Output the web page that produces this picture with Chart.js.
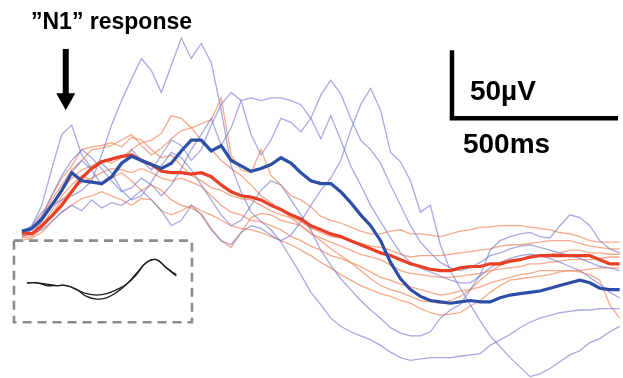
<!DOCTYPE html>
<html><head><meta charset="utf-8">
<script src="https://cdn.jsdelivr.net/npm/chart.js@4.4.1/dist/chart.umd.min.js"></script>
<style>html,body{margin:0;padding:0;background:#fff;}canvas{display:block;}</style>
</head><body>
<canvas id="c" width="623" height="378"></canvas>
<script>
// time axis (ms) shared by all traces
const timeMs = [0,30,60,90,120,150,180,210,240,270,300,330,360,390,420,450,480,510,540,570,600,630,660,690,720,750,780,810,840,870,900,930,960,990,1020,1050,1080,1110,1140,1170,1200,1230,1260,1290,1320,1350,1380,1410,1440,1470,1500,1530,1560,1590,1620,1650,1680,1710,1740,1770,1800];

// mean responses (µV)
const meanBlue = [3,5,12,22,33,46,40,39,38,43,53,58,55,52,49,53,62,70,70,62,66,55,51,47,49,52,57,53,46,40,38,38,32,24,15,7,-4,-20,-32,-40,-45,-48,-49,-50,-49,-48,-49,-49,-46,-44,-43,-42,-41,-39,-37,-35,-33,-35,-39,-40,-40];
const meanRed = [2,1,7,14,22,32,42,49,54,56,58,59,55,52,47,46,46,45,46,43,37,32,29,28,26,22,19,15,12,7,4,1,-1,-4,-7,-10,-13,-15,-18,-21,-23,-25,-26,-26,-24,-23,-23,-21,-21,-19,-18,-16,-15,-15,-15,-15,-15,-15,-18,-21,-21];

// individual blue traces (µV)
const blue1 = [2,7,17,22,26,29,33,40,59,81,99,115,130,121,105,125,145,130,141,127,92,51,32,17,10,4,-5,-17,-29,-42,-51,-61,-67,-71,-74,-77,-81,-86,-90,-92,-91,-90,-90,-90,-89,-88,-87,-81,-77,-73,-68,-64,-61,-59,-57,-56,-55,-55,-54,-54,-54];
const blue2 = [1,7,22,49,74,81,59,49,53,46,33,26,29,39,51,61,57,48,37,26,15,7,11,22,33,40,37,26,15,4,-11,-22,-32,-40,-48,-55,-61,-68,-72,-74,-74,-71,-61,-55,-51,-40,-29,-11,-4,-1,1,2,-1,-2,7,15,13,7,-4,-10,-13];
const blue3 = [1,4,10,22,33,46,55,48,37,42,51,63,55,48,59,70,66,55,63,81,96,105,99,101,99,101,101,99,96,86,71,88,70,51,37,22,10,-2,-13,-20,-24,-27,-30,-33,-35,-35,-30,-24,-20,-17,-15,-14,-15,-17,-20,-23,-26,-31,-36,-42,-46];
const blue4 = [0,4,13,29,44,55,63,57,49,40,32,35,42,37,29,37,49,63,74,86,66,79,99,74,59,70,86,83,76,86,103,114,104,86,70,63,53,37,22,7,-5,-13,-20,-24,-26,-24,-20,-15,-13,-10,-8,-7,-9,-11,-13,-15,-17,-20,-23,-24,-26];
const blue5 = [0,1,4,10,17,22,18,26,20,24,22,27,33,26,18,7,11,22,15,4,-4,-7,2,7,5,0,-4,0,10,22,33,42,55,77,96,108,92,61,54,40,17,22,-7,-26,-39,-51,-63,-74,-82,-90,-97,-104,-102,-98,-93,-88,-85,-79,-76,-71,-67];

// individual red traces (µV)
const red1 = [-1,1,11,26,37,48,55,63,64,66,70,74,66,59,64,71,77,79,82,85,101,59,48,46,63,44,37,29,26,21,14,11,9,6,3,1,1,3,4,1,1,0,-1,1,3,4,6,6,7,7,7,6,5,4,2,1,-1,-4,-5,-5,-5];
const red2 = [0,4,15,29,42,51,63,65,66,68,65,72,70,63,57,59,51,44,40,35,33,29,27,26,22,18,15,13,10,5,2,-1,-2,-4,-6,-8,-9,-11,-14,-16,-15,-15,-15,-14,-13,-12,-11,-10,-8,-7,-7,-6,-5,-4,-4,-4,-6,-8,-9,-10,-10];
const red3 = [-1,1,10,22,33,42,48,51,55,53,57,63,68,70,75,88,86,79,70,63,55,49,44,37,29,24,18,13,7,1,-2,-5,-8,-11,-14,-16,-18,-22,-26,-28,-29,-30,-31,-31,-30,-29,-28,-26,-25,-24,-23,-21,-21,-20,-19,-18,-18,-18,-17,-16,-16];
const red4 = [-2,-1,5,15,26,33,39,42,46,49,48,46,49,46,42,40,42,39,36,29,22,17,15,11,10,7,4,-1,-4,-8,-11,-15,-17,-20,-23,-27,-31,-33,-36,-38,-40,-42,-44,-43,-41,-40,-38,-35,-33,-31,-29,-28,-26,-26,-26,-26,-27,-29,-33,-51,-61];
const red5 = [-4,-2,2,10,17,22,27,29,32,29,26,22,27,26,18,15,18,22,18,15,11,7,5,4,2,-1,-4,-7,-11,-15,-20,-24,-29,-33,-37,-40,-43,-45,-48,-50,-54,-57,-59,-58,-57,-52,-48,-42,-37,-33,-32,-31,-30,-29,-27,-26,-26,-25,-24,-24,-24];
const red6 = [-1,2,7,18,29,37,44,40,37,42,46,40,33,37,33,26,22,20,16,5,-4,-9,2,13,16,15,11,9,7,2,-4,-10,-15,-20,-26,-32,-37,-40,-42,-45,-48,-49,-50,-48,-45,-40,-33,-27,-22,-20,-18,-17,-15,-14,-13,-11,-11,-13,-13,-14,-14];

// inset (averaged waveforms)
const insetTimeMs = [15,45,75,105,135,165,195,225,255,285,315,345,375,405,435,465];
const insetA = [-35,-35,-37,-37,-37,-40,-45,-47,-46,-42,-36,-28,-20,-18,-24,-30];
const insetB = [-35,-35,-36,-37,-37,-40,-43,-44,-43,-40,-36,-29,-20,-18,-24,-29];
const insetBoxT = [-24,512];
const insetBoxV = [-4,-64];

// scale bar: 50 µV, 500 ms
const barT0 = 1295, barMs = 500;
const barV0 = 86, barUv = 50;

// annotation arrow for N1 (ms, µV)
const arrowT = 132, arrowTopV = 137, arrowTipV = 92;

const pts = (vals, times) => vals.map((v, i) => ({x: times[i], y: v}));

const thinBlue = 'rgba(110,118,205,0.62)';
const thinRed = 'rgba(244,140,100,0.75)';
const datasets = [];
datasets.push({data: pts(meanBlue, timeMs), borderColor: '#2c4ea6', borderWidth: 3.2, order: 0});
datasets.push({data: pts(meanRed, timeMs), borderColor: '#ea3f25', borderWidth: 3.2, order: 1});
[red1, red2, red3, red4, red5, red6].forEach(s => datasets.push({data: pts(s, timeMs), borderColor: thinRed, borderWidth: 1.3, order: 3}));
[blue1, blue2, blue3, blue4, blue5].forEach(s => datasets.push({data: pts(s, timeMs), borderColor: thinBlue, borderWidth: 1.3, order: 2}));
[insetA, insetB].forEach(s => datasets.push({data: pts(s, insetTimeMs), borderColor: '#1e1e1e', borderWidth: 1.3, tension: 0.4, order: 4}));
datasets.push({data: [
  {x: insetBoxT[0], y: insetBoxV[0]}, {x: insetBoxT[1], y: insetBoxV[0]},
  {x: insetBoxT[1], y: insetBoxV[1]}, {x: insetBoxT[0], y: insetBoxV[1]},
  {x: insetBoxT[0], y: insetBoxV[0]}],
  borderColor: '#8c8c8c', borderWidth: 2.6, borderDash: [9, 6], order: 4});
datasets.push({data: [
  {x: barT0, y: barV0 + barUv}, {x: barT0, y: barV0}, {x: barT0 + barMs, y: barV0}],
  borderColor: '#000', borderWidth: 4.5, borderJoinStyle: 'miter', borderCapStyle: 'butt', order: 0});

const labels = {
  id: 'labels',
  afterDatasetsDraw(chart) {
    const {ctx, scales: {x, y}} = chart;
    ctx.save();
    ctx.fillStyle = '#000';
    // arrow
    const ax = x.getPixelForValue(arrowT);
    const top = y.getPixelForValue(arrowTopV);
    const tip = y.getPixelForValue(arrowTipV);
    ctx.fillRect(ax - 3, top, 6, tip - top - 15);
    ctx.beginPath();
    ctx.moveTo(ax - 9.5, tip - 17);
    ctx.lineTo(ax + 9.5, tip - 17);
    ctx.lineTo(ax, tip);
    ctx.closePath();
    ctx.fill();
    // texts
    ctx.font = 'bold 23px "Liberation Sans", Arial, sans-serif';
    ctx.textBaseline = 'alphabetic';
    ctx.fillText('\u201dN1\u201d response', 31, 29);
    ctx.font = 'bold 28px "Liberation Sans", Arial, sans-serif';
    const bx = x.getPixelForValue(barT0);
    const by = y.getPixelForValue(barV0);
    ctx.fillText('50\u00b5V', bx + 18, by - 18);
    ctx.fillText('500ms', bx + 11, by + 35);
    ctx.restore();
  }
};

new Chart(document.getElementById('c'), {
  type: 'line',
  data: {datasets},
  options: {
    responsive: false,
    animation: false,
    devicePixelRatio: 1,
    events: [],
    layout: {padding: 0},
    elements: {point: {radius: 0}, line: {tension: 0, fill: false}},
    plugins: {legend: {display: false}, tooltip: {enabled: false}},
    scales: {
      x: {type: 'linear', min: -66, max: 1810, display: false},
      y: {type: 'linear', min: -105, max: 173, display: false}
    }
  },
  plugins: [labels]
});
</script>
</body></html>
